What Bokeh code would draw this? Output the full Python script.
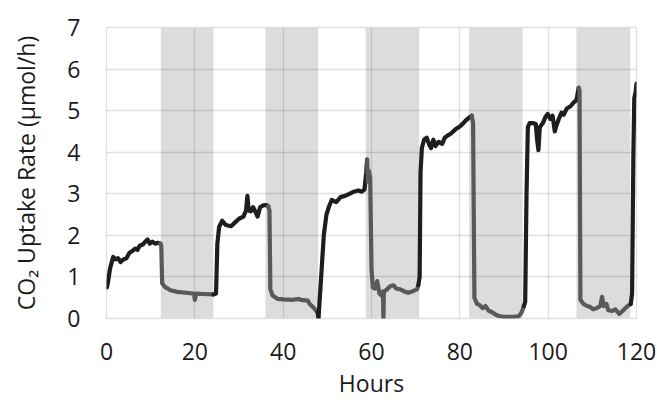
from bokeh.plotting import figure
from bokeh.embed import file_html
from bokeh.resources import INLINE
from bokeh.models import FixedTicker, Range1d

# Dark periods (hours)
dark_start = [12.3, 36.0, 58.7, 82.1, 106.4]
dark_end = [24.2, 47.9, 70.8, 94.2, 118.6]

# CO2 uptake series: hours, value, phase (L = light, D = dark)
hours = [
    0.1, 0.3, 0.8, 1.5, 2.0, 2.6, 3.2, 3.8, 4.5, 5.2, 5.8, 6.5, 7.0, 7.5, 8.2, 8.8, 9.3, 9.8, 10.4, 11.0, 11.6, 12.2,
    12.4, 12.6, 13.2, 14.5, 16.0, 18.0, 19.8, 20.0, 20.3, 22.0, 24.2,
    24.8, 25.1, 25.5, 26.2, 27.0, 28.2, 29.0, 30.0, 31.0, 31.6, 31.9, 32.2, 32.7, 33.2, 33.8, 34.2, 34.8, 35.5, 36.2, 36.6,
    36.9, 37.1, 37.6, 38.8, 40.0, 42.0, 43.5, 44.0, 45.6, 46.0, 46.8, 47.5, 47.8,
    48.0, 48.6, 49.2, 49.8, 50.4, 51.0, 52.0, 53.0, 54.0, 55.0, 56.0, 57.0, 57.8, 58.4, 58.8, 59.0,
    59.2, 59.4, 59.7, 60.0, 60.3, 60.8, 61.3, 61.8, 62.3, 62.6, 62.7, 62.8, 63.5, 64.3, 65.0, 65.6, 66.5, 67.5, 68.3, 69.2, 70.3, 70.6,
    70.9, 71.1, 71.4, 71.9, 72.5, 73.0, 73.5, 74.0, 74.5, 75.2, 76.0, 76.6, 77.2, 78.0, 79.0, 80.0, 80.8, 81.5, 82.3, 82.7,
    83.0, 83.3, 83.9, 84.5, 85.2, 85.8, 86.5, 87.3, 88.0, 88.8, 90.0, 92.0, 93.3, 94.0, 94.5,
    94.8, 95.1, 95.4, 95.8, 96.5, 97.2, 97.5, 97.8, 98.1, 98.8, 99.4, 99.9, 100.5, 101.0, 101.5, 101.8, 102.4, 103.0, 103.5, 104.2, 105.0, 105.8, 106.4, 106.9,
    107.1, 107.3, 108.0, 108.8, 109.5, 110.2, 111.0, 111.8, 112.2, 112.6, 113.2, 113.6, 114.5, 115.2, 116.1, 117.0, 118.0, 118.7,
    119.0, 119.3, 119.5, 119.8, 120.0,
]
uptake = [
    0.75, 0.85, 1.2, 1.48, 1.42, 1.45, 1.36, 1.42, 1.45, 1.58, 1.62, 1.68, 1.65, 1.75, 1.78, 1.85, 1.90, 1.80, 1.85, 1.80, 1.82, 1.80,
    1.75, 0.85, 0.76, 0.68, 0.64, 0.62, 0.60, 0.45, 0.60, 0.59, 0.58,
    0.60, 1.80, 2.20, 2.35, 2.25, 2.22, 2.30, 2.40, 2.45, 2.60, 2.95, 2.60, 2.58, 2.68, 2.55, 2.45, 2.68, 2.72, 2.73, 2.70,
    2.60, 0.70, 0.55, 0.47, 0.46, 0.45, 0.47, 0.45, 0.43, 0.35, 0.27, 0.18, 0.15,
    0.0, 1.0, 2.0, 2.5, 2.7, 2.85, 2.80, 2.92, 2.95, 3.00, 3.05, 3.08, 3.05, 3.10, 3.50, 3.82,
    3.30, 3.55, 3.40, 1.20, 0.75, 0.72, 0.90, 0.60, 0.55, 0.65, 0.0, 0.65, 0.70, 0.78, 0.80, 0.72, 0.70, 0.65, 0.62, 0.65, 0.70, 0.80,
    1.0, 3.5, 4.1, 4.3, 4.35, 4.2, 4.1, 4.3, 4.15, 4.25, 4.2, 4.35, 4.4, 4.45, 4.55, 4.62, 4.7, 4.78, 4.85, 4.88,
    4.7, 0.5, 0.35, 0.32, 0.25, 0.30, 0.19, 0.15, 0.10, 0.06, 0.04, 0.04, 0.05, 0.15, 0.30,
    0.4, 3.0, 4.6, 4.7, 4.7, 4.68, 4.3, 4.05, 4.6, 4.7, 4.85, 4.92, 4.8, 4.88, 4.5, 4.62, 4.8, 4.95, 4.9, 5.05, 5.1, 5.2, 5.25, 5.55,
    5.5, 0.45, 0.35, 0.30, 0.28, 0.22, 0.25, 0.30, 0.52, 0.30, 0.35, 0.20, 0.18, 0.22, 0.11, 0.20, 0.30, 0.35,
    0.6, 4.0, 5.3, 5.45, 5.65,
]
phase = (["L"] * 22 + ["D"] * 11 + ["L"] * 20 + ["D"] * 13 + ["L"] * 16 + ["D"] * 22
         + ["L"] * 20 + ["D"] * 15 + ["L"] * 24 + ["D"] * 18 + ["L"] * 5)

x_ticks = [0, 20, 40, 60, 80, 100, 120]
y_ticks = [0, 1, 2, 3, 4, 5, 6, 7]
x_title = "Hours"
y_title = "CO₂ Uptake Rate (μmol/h)"

FONT = "Open Sans"
LIGHT_COLOR = "#1e1e1e"
DARK_COLOR = "#595959"
TEXT_COLOR = "#1a1a1a"

p = figure(width=657, height=401, output_backend="svg", toolbar_location=None,
           x_range=Range1d(0, 120), y_range=Range1d(0, 7),
           min_border_left=106, min_border_right=21, min_border_top=27, min_border_bottom=83)

bands = p.quad(left=dark_start, right=dark_end, bottom=0, top=7,
               fill_color="#dcdcdc", line_color=None)
bands.level = "image"

# split into runs by phase, each run starts at previous run's last point
runs = []
start = 0
for i in range(1, len(hours) + 1):
    if i == len(hours) or phase[i] != phase[start]:
        s = max(start - 1, 0)
        runs.append((hours[s:i], uptake[s:i], phase[start]))
        start = i
for xs, ys, ph in runs:
    p.line(xs, ys, line_color=LIGHT_COLOR if ph == "L" else DARK_COLOR,
           line_width=4.2, line_join="round", line_cap="round")

for ax in (p.xaxis[0], p.yaxis[0]):
    ax.axis_line_color = None
    ax.major_tick_line_color = None
    ax.minor_tick_line_color = None
    ax.major_tick_out = 0
    ax.major_tick_in = 0
    ax.major_label_text_font = FONT
    ax.major_label_text_font_size = "23px"
    ax.major_label_text_color = TEXT_COLOR
    ax.axis_label_text_font = FONT
    ax.axis_label_text_font_size = "23px"
    ax.axis_label_text_font_style = "normal"
    ax.axis_label_text_color = TEXT_COLOR

p.xaxis.ticker = FixedTicker(ticks=x_ticks)
p.yaxis.ticker = FixedTicker(ticks=y_ticks)
p.xaxis.axis_label = x_title
p.yaxis.axis_label = y_title
p.xaxis.major_label_standoff = 24
p.xaxis.axis_label_standoff = 4
p.yaxis.major_label_standoff = 26
p.yaxis.axis_label_standoff = 22

p.grid.grid_line_color = "#000000"
p.grid.grid_line_alpha = 0.12
p.grid.grid_line_width = 1.3
p.outline_line_color = "#000000"
p.outline_line_alpha = 0.12
p.outline_line_width = 1.3
p.background_fill_color = "white"
p.border_fill_color = "white"

open("out.html", "w").write(file_html(p, INLINE))
